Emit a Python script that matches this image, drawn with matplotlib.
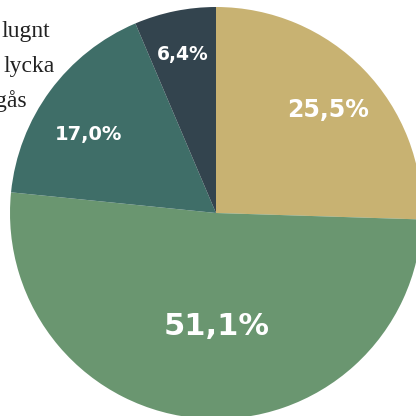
import matplotlib
matplotlib.use('Agg')
import matplotlib.pyplot as plt

# pie values, clockwise from 12 o'clock
labels = ['25,5%', '51,1%', '17,0%', '6,4%']
values = [25.5, 51.1, 17.0, 6.4]
colors = ['#C8B272', '#6A9670', '#3F6E68', '#33444E']
label_sizes = [17, 22, 14, 13.5]
label_pos = [(0.544, 0.466), (0.005, -0.592), (-0.617, 0.354), (-0.160, 0.743)]

# legend fragments (cut off by the left edge in the original)
legend_text = ['lugnt', 'lycka', 'gås']
legend_x = [-0.806, -0.782, -0.917]
legend_y = [0.854, 0.684, 0.515]

fig = plt.figure(figsize=(4.16, 4.16), dpi=100)
ax = fig.add_axes([0, 0, 1, 1])

ax.pie(values, colors=colors, startangle=90, counterclock=False,
       radius=1, center=(0, 0), wedgeprops=dict(linewidth=0))

for lab, s, (x, y) in zip(labels, label_sizes, label_pos):
    ax.text(x, y, lab, color='white', fontsize=s, fontweight='bold',
            family='DejaVu Sans', ha='center', va='baseline')

for t, x, y in zip(legend_text, legend_x, legend_y):
    ax.text(x, y, t, color='#222222', fontsize=17, family='Liberation Serif',
            ha='right', va='baseline')

ax.set_xlim(-216 / 206, 200 / 206)
ax.set_ylim(-203 / 206, 213 / 206)
ax.set_aspect('auto')
ax.axis('off')

fig.savefig('out.png', dpi=100)
